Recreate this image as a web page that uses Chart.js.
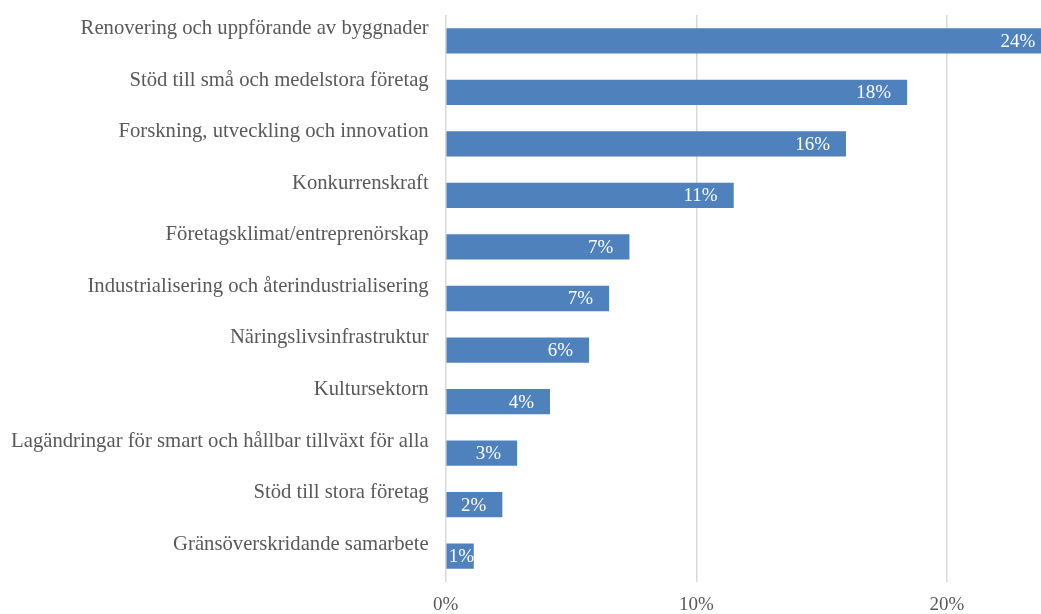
<!DOCTYPE html>
<html>
<head>
<meta charset="utf-8">
<script src="https://cdn.jsdelivr.net/npm/chart.js@4"></script>
<style>
  html, body { margin: 0; padding: 0; background: #fff; overflow: hidden; }
  #wrap { width: 1041px; height: 614px; }
</style>
</head>
<body>
<div id="wrap"><canvas id="barChart" width="1041" height="614"></canvas></div>
<script>
const categories = [
    'Renovering och uppförande av byggnader',
    'Stöd till små och medelstora företag',
    'Forskning, utveckling och innovation',
    'Konkurrenskraft',
    'Företagsklimat/entreprenörskap',
    'Industrialisering och återindustrialisering',
    'Näringslivsinfrastruktur',
    'Kultursektorn',
    'Lagändringar för smart och hållbar tillväxt för alla',
    'Stöd till stora företag',
    'Gränsöverskridande samarbete'
];
const shares = [24.16, 18.41, 15.97, 11.49, 7.33, 6.52, 5.72, 4.16, 2.85, 2.26, 1.12]; // percent
const xTicks = [0, 10, 20];

const textGrey = '#595959';
const serif = "'Liberation Serif', 'Times New Roman', serif";

// white value labels at the inner end of each bar
const barLabels = {
    id: 'barLabels',
    afterDatasetsDraw(chart) {
        const ctx = chart.ctx;
        const meta = chart.getDatasetMeta(0);
        const xs = chart.scales.x;
        ctx.save();
        ctx.font = '19px ' + serif;
        ctx.fillStyle = '#ffffff';
        ctx.textAlign = 'right';
        ctx.textBaseline = 'middle';
        meta.data.forEach((bar, i) => {
            const txt = Math.round(shares[i]) + '%';
            const w = ctx.measureText(txt).width;
            const start = xs.getPixelForValue(0);
            const end = xs.getPixelForValue(shares[i]);
            const right = Math.max(end - 16, start + 3 + w);
            ctx.fillText(txt, right, bar.y + 1);
        });
        ctx.restore();
    }
};

const ctx = document.getElementById('barChart').getContext('2d');
const chart = new Chart(ctx, {
    type: 'bar',
    data: {
        labels: categories,
        datasets: [{
            data: shares,
            backgroundColor: '#4f81bd',
            borderWidth: 0,
            categoryPercentage: 1,
            barPercentage: 0.49
        }]
    },
    options: {
        indexAxis: 'y',
        responsive: false,
        animation: false,
        layout: { padding: 0 },
        plugins: {
            legend: { display: false },
            tooltip: { enabled: false }
        },
        scales: {
            x: {
                min: 0,
                max: 23.75,
                afterBuildTicks: s => { s.ticks = xTicks.map(v => ({ value: v })); },
                afterFit: s => { s.height = 32; },
                grid: { color: '#d9d9d9', lineWidth: 1.5, drawTicks: false },
                border: { display: false },
                ticks: {
                    padding: 12,
                    color: textGrey,
                    font: { family: serif, size: 19 },
                    callback: v => v + '%'
                }
            },
            y: {
                afterFit: s => { s.width = 445.7; s.paddingTop = 15; s.paddingBottom = 0; },
                grid: { display: false, drawTicks: false },
                border: { display: false },
                ticks: {
                    padding: 17,
                    labelOffset: -12,
                    color: textGrey,
                    font: { family: serif, size: 20.7 },
                    autoSkip: false
                }
            }
        }
    },
    plugins: [barLabels]
});
</script>
</body>
</html>
